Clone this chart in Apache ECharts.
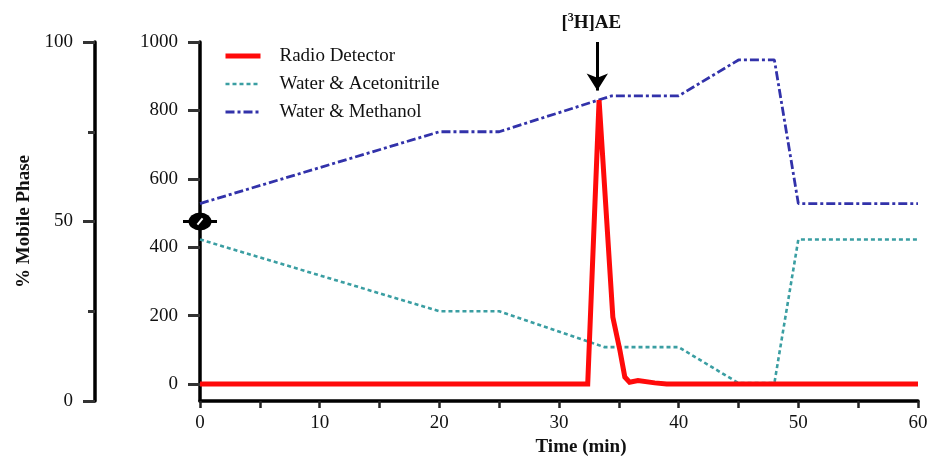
<!DOCTYPE html>
<html>
<head>
<meta charset="utf-8">
<script src="https://cdn.jsdelivr.net/npm/echarts@6/dist/echarts.min.js"></script>
<style>html,body{margin:0;padding:0;background:#fff;}#c{width:931px;height:456px;}</style>
</head>
<body>
<div id="c"></div>
<script>
// ---- data ----
const radioTime  = [0, 32.4, 33.35, 34.5, 35.1, 35.5, 35.9, 36.6, 38.0, 39.0, 60];
const radioValue = [0, 0, 830, 195, 96, 20, 5, 10, 3, 0, 0];

const methTime = [0, 20, 25, 34.4, 40, 45, 48, 50, 60];
const methPct  = [55, 75, 75, 85, 85, 95, 95, 55, 55];

const acnTime = [0, 20, 25, 33.8, 40, 45, 48, 50, 60];
const acnPct  = [45, 25, 25, 15, 15, 5, 5, 45, 45];

const xTicks = [0, 5, 10, 15, 20, 25, 30, 35, 40, 45, 50, 55, 60];
const xLabels = [0, 10, 20, 30, 40, 50, 60];
const yTicks = [0, 200, 400, 600, 800, 1000];
const seriesNames = ['Radio Detector', 'Water & Acetonitrile', 'Water & Methanol'];
const peakTime = 33.2;
const arrowTop = 1000, arrowTip = 858;

const zip = (a, b) => a.map((v, i) => [v, b[i]]);
const FONT = 'Liberation Serif';
const RED = '#ff0a0a', TEAL = '#3a9ea2', BLUE = '#3232aa';

const chart = echarts.init(document.getElementById('c'), null, {renderer: 'canvas'});
const axisLine = {show: true, onZero: false, lineStyle: {color: '#000', width: 3.5}};
chart.setOption({
  animation: false,
  backgroundColor: '#fff',
  textStyle: {fontFamily: FONT},
  grid: {left: 200, right: 13, top: 42, bottom: 55, containLabel: false, outerBoundsMode: 'none'},
  legend: {
    orient: 'vertical', left: 223, top: 45, padding: 0,
    data: [
      {name: seriesNames[0], lineStyle: {width: 5, color: RED}},
      {name: seriesNames[1], lineStyle: {width: 2.6, color: TEAL}},
      {name: seriesNames[2], lineStyle: {width: 2.8, color: BLUE}}
    ],
    itemWidth: 35, itemHeight: 14, itemGap: 6,
    itemStyle: {opacity: 0},
    textStyle: {fontFamily: FONT, fontSize: 19, color: '#111', lineHeight: 22, padding: [0, 0, 0, 14]},
    selectedMode: false
  },
  xAxis: {
    type: 'value', min: 0, max: 60,
    name: 'Time (min)', nameLocation: 'middle', nameGap: 37,
    nameTextStyle: {fontFamily: FONT, fontSize: 19, fontWeight: 'bold', color: '#111', padding: [0, 0, 0, 44]},
    axisLine: axisLine,
    axisTick: {show: true, customValues: xTicks, length: 7, lineStyle: {color: '#222', width: 2.5}},
    axisLabel: {customValues: xLabels, fontFamily: FONT, fontSize: 19, color: '#111', margin: 13},
    splitLine: {show: false}
  },
  yAxis: [
    {
      type: 'value', min: -50, max: 1000, position: 'left', offset: 0,
      axisLine: axisLine,
      axisTick: {show: true, customValues: yTicks, length: 12, lineStyle: {color: '#333', width: 3}},
      axisLabel: {customValues: yTicks, formatter: v => String(v), fontFamily: FONT, fontSize: 19, color: '#111', margin: 22},
      splitLine: {show: false}
    },
    {
      type: 'value', min: 0, max: 100, interval: 50, position: 'left', offset: 105,
      name: '% Mobile Phase', nameLocation: 'middle', nameGap: 61, nameRotate: 90,
      nameTextStyle: {fontFamily: FONT, fontSize: 19, fontWeight: 'bold', color: '#111'},
      axisLine: axisLine,
      axisTick: {show: true, length: 12, lineStyle: {color: '#333', width: 3}},
      minorTick: {show: true, splitNumber: 2, length: 7, lineStyle: {color: '#333', width: 3}},
      axisLabel: {fontFamily: FONT, fontSize: 19, color: '#111', margin: 22},
      splitLine: {show: false}, minorSplitLine: {show: false}
    }
  ],
  series: [
    {
      name: seriesNames[0], type: 'line', yAxisIndex: 0, symbol: 'none', z: 3,
      data: zip(radioTime, radioValue),
      lineStyle: {color: RED, width: 5, join: 'miter'},
      itemStyle: {color: RED},
      markLine: {
        silent: true, animation: false,
        symbol: ['none', 'arrow'], symbolSize: [16, 17],
        lineStyle: {color: '#000', width: 3, type: 'solid'},
        label: {
          show: true, position: 'start', distance: 8, offset: [-6, 0],
          formatter: '{a|[}{s|3}{a|H]AE}',
          rich: {
            a: {fontFamily: FONT, fontSize: 19, fontWeight: 'bold', color: '#111', lineHeight: 22},
            s: {fontFamily: FONT, fontSize: 12, fontWeight: 'bold', color: '#111', lineHeight: 22, verticalAlign: 'top', padding: [0, 0, 8, 0]}
          }
        },
        data: [[{coord: [peakTime, arrowTop]}, {coord: [peakTime, arrowTip]}]]
      }
    },
    {
      name: seriesNames[1], type: 'line', yAxisIndex: 1, symbol: 'none', z: 2,
      data: zip(acnTime, acnPct),
      lineStyle: {color: TEAL, width: 2.6, type: [4, 3]},
      itemStyle: {color: TEAL}
    },
    {
      name: seriesNames[2], type: 'line', yAxisIndex: 1, symbol: 'none', z: 2,
      data: zip(methTime, methPct),
      lineStyle: {color: BLUE, width: 2.8, type: [9, 3, 3, 3]},
      itemStyle: {color: BLUE}
    },
    {
      type: 'scatter', yAxisIndex: 1, z: 5, silent: true,
      data: [[0, 50]],
      symbol: 'rect', symbolSize: [34, 3],
      itemStyle: {color: '#000', opacity: 1}
    },
    {
      type: 'scatter', yAxisIndex: 1, z: 6, silent: true,
      data: [[0, 50]],
      symbol: 'path://M0,10A10,10,0,1,1,20,10A10,10,0,1,1,0,10Z', symbolSize: [23, 18],
      itemStyle: {color: '#000', opacity: 1}
    },
    {
      type: 'scatter', yAxisIndex: 1, z: 7, silent: true,
      data: [[0, 50]],
      symbol: 'rect', symbolSize: [2, 8], symbolRotate: -40,
      itemStyle: {color: '#fff', opacity: 1}
    }
  ]
});
</script>
</body>
</html>
